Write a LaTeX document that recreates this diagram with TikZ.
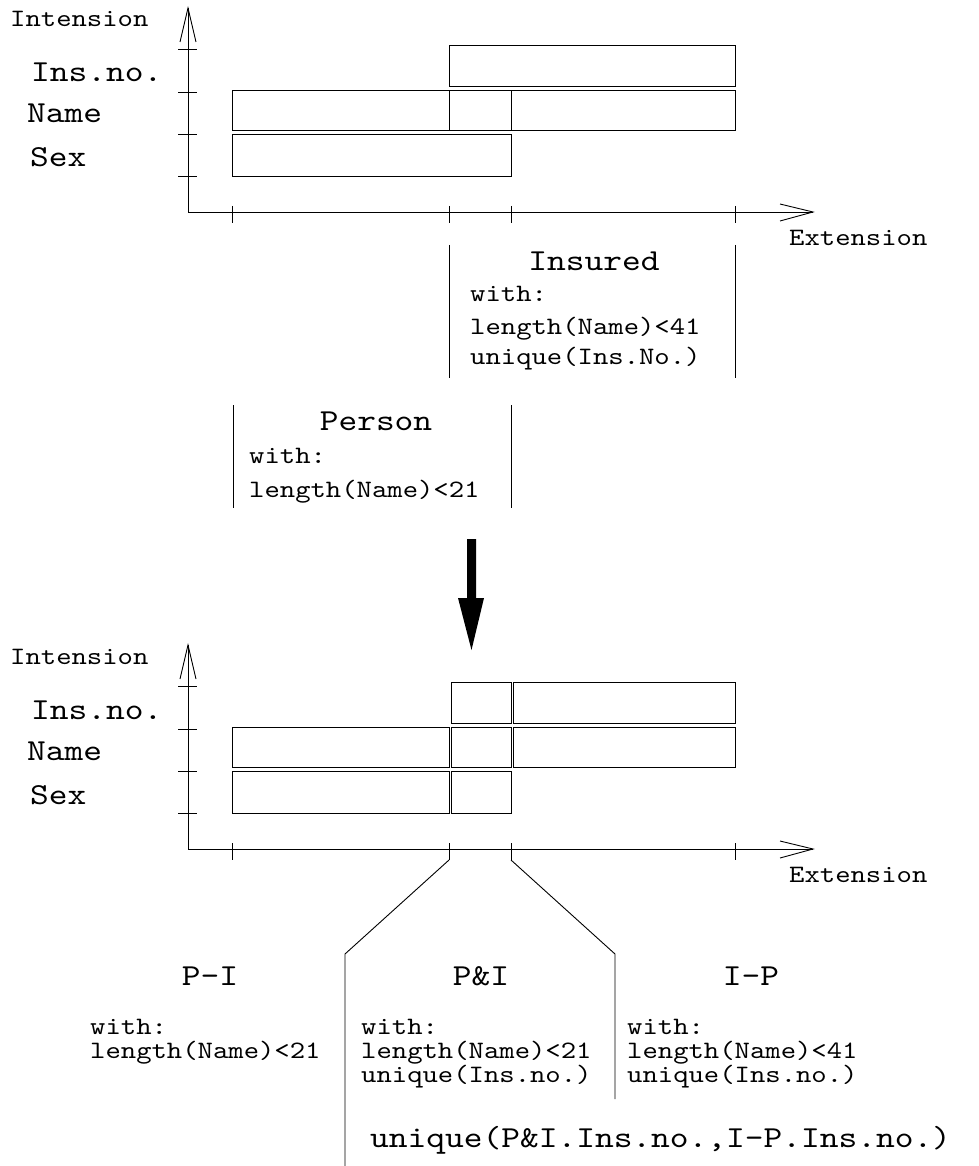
\documentclass[tikz,border=0pt]{standalone}
\usepackage{fontspec}
\newfontfamily\courfont{lmmono10-regular.otf}[FakeStretch=1.17]
\newcommand\drawaxes[1]{%
  \coordinate (#1o) at (188,212);
  \coordinate (#1ytip) at (188,8);
  \coordinate (#1xtip) at (813,212);
  \draw[axis] (#1ytip) -- (#1o) -- (#1xtip);
  \draw[axis] (180,42) -- (#1ytip) -- (196,42);
  \draw[axis] (780,204) -- (#1xtip) -- (780,221);
  \foreach \yy in {49,92,134,176} {\draw[axis] (178,\yy) -- (197,\yy);}
  \foreach \xx in {232,449,511,735} {\draw[axis] (\xx,206) -- (\xx,223);}
  \coordinate (#1tA) at (449,223);
  \coordinate (#1tB) at (511,223);
  \node[sm] (#1int) at (10,27) {Intension};
  \node[sm] (#1ext) at (789,245) {Extension};
  \node[lg] (#1ins) at (31,82) {Ins.no.};
  \node[lg] (#1name) at (27,123) {Name};
  \node[lg] (#1sex) at (30,167) {Sex};
}
\begin{document}
\begin{tikzpicture}[x=1pt,y=-1pt,
  axis/.style={line width=0.9pt},
  bar/.style={draw, line width=0.9pt},
  sm/.style={font=\courfont\fontsize{25}{20}\selectfont, inner sep=0pt, anchor=base west},
  lg/.style={font=\courfont\fontsize{30.5}{31}\selectfont, inner sep=0pt, anchor=base west},
  lgc/.style={lg, anchor=base}]
\useasboundingbox (0,0) rectangle (978,1166);

% ---------------- top diagram ----------------
\drawaxes{t}
\draw[bar] (449,45) rectangle (735,86);
\draw[bar] (232,90) rectangle (511,130);
\draw[bar] (449,90) rectangle (735,130);
\draw[bar] (232,134) rectangle (511,176);

% Insured block
\draw[axis] (449,245) -- (449,378);
\draw[axis] (735,245) -- (735,378);
\node[lgc] (insured) at (594,270) {Insured};
\node[sm] (iw) at (470,301) {with:};
\node[sm] (il) at (470,334) {length(Name)<41};
\node[sm] (iu) at (470,364) {unique(Ins.No.)};

% Person block
\draw[axis] (233,405) -- (233,508);
\draw[axis] (511,405) -- (511,508);
\node[lgc] (person) at (376,430) {Person};
\node[sm] (pw) at (249,463) {with:};
\node[sm] (pl) at (249,497) {length(Name)<21};

% big arrow
\fill (467,539) -- (476,539) -- (476,598) -- (484,598) -- (471.5,650) -- (458,598) -- (467,598) -- cycle;

% ---------------- bottom diagram ----------------
\begin{scope}[yshift=-637pt]
\drawaxes{b}
\draw[bar] (451,45) rectangle (511,86);
\draw[bar] (513,45) rectangle (735,86);
\draw[bar] (232,90) rectangle (449,130);
\draw[bar] (451,90) rectangle (511,130);
\draw[bar] (513,90) rectangle (735,130);
\draw[bar] (232,134) rectangle (449,176);
\draw[bar] (451,134) rectangle (511,176);
\end{scope}

\coordinate (dl) at (345,954);
\coordinate (dr) at (615,954);
\coordinate (dlend) at (345,1166);
\coordinate (drend) at (615,1099);
\draw[axis] (btA) -- (dl) -- (dlend);
\draw[axis] (btB) -- (dr) -- (drend);

\node[lgc] (pi) at (210,985) {P-I};
\node[lgc] (pandi) at (481,985) {P\&I};
\node[lgc] (ip) at (751,985) {I-P};

\node[sm] (aw) at (90,1034) {with:};
\node[sm] (al) at (90,1058) {length(Name)<21};

\node[sm] (mw) at (361,1034) {with:};
\node[sm] (ml) at (361,1058) {length(Name)<21};
\node[sm] (mu) at (361,1082) {unique(Ins.no.)};

\node[sm] (rw) at (627,1034) {with:};
\node[sm] (rl) at (627,1058) {length(Name)<41};
\node[sm] (ru) at (627,1082) {unique(Ins.no.)};

\node[lg] (uniq) at (370,1147) {unique(P\&I.Ins.no.,I-P.Ins.no.)};
\end{tikzpicture}
\end{document}
